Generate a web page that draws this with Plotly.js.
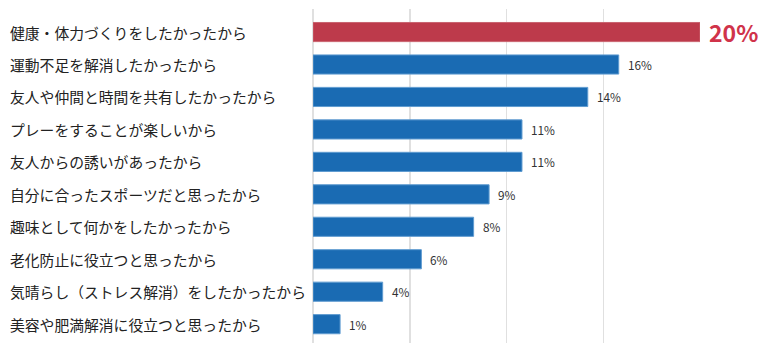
<!DOCTYPE html>
<html>
<head>
<meta charset="utf-8">
<script src="https://cdn.plot.ly/plotly-3.0.1.min.js"></script>
<style>html,body{margin:0;padding:0;background:#fff;}#chart{width:765px;height:352px;}</style>
</head>
<body>
<div id="chart"></div>
<script>
const categories = [
  "健康・体力づくりをしたかったから",
  "運動不足を解消したかったから",
  "友人や仲間と時間を共有したかったから",
  "プレーをすることが楽しいから",
  "友人からの誘いがあったから",
  "自分に合ったスポーツだと思ったから",
  "趣味として何かをしたかったから",
  "老化防止に役立つと思ったから",
  "気晴らし（ストレス解消）をしたかったから",
  "美容や肥満解消に役立つと思ったから"
];
const values = [20, 15.8, 14.2, 10.8, 10.8, 9.1, 8.3, 5.6, 3.6, 1.4];
const valueLabels = ["20%", "16%", "14%", "11%", "11%", "9%", "8%", "6%", "4%", "1%"];
const highlightIndex = 0;

const FONT = '"Noto Sans CJK JP", "Noto Sans", sans-serif';
const colors = values.map((v, i) => i === highlightIndex ? '#bd3a4b' : '#1a6bb3');
const lineColors = values.map((v, i) => i === highlightIndex ? '#c9636f' : '#5f9bd0');

const annotations = [];
categories.forEach((c, i) => {
  annotations.push({
    xref: 'paper', yref: 'y', x: -305/387, y: c, text: c,
    xanchor: 'left', yanchor: 'middle', showarrow: false,
    font: {family: FONT, size: 14.8, color: '#222'}
  });
  const hi = i === highlightIndex;
  annotations.push({
    xref: 'x', yref: 'y', x: values[i], y: c, text: valueLabels[i],
    xanchor: 'left', yanchor: 'middle', showarrow: false, xshift: 7, yshift: 0,
    font: {family: FONT, size: hi ? 23 : 11.8, color: hi ? '#d0334a' : '#333', weight: hi ? 700 : 400}
  });
});

const trace = {
  type: 'bar', orientation: 'h',
  x: values, y: categories,
  marker: {color: colors, line: {color: lineColors, width: 1}},
  hoverinfo: 'none'
};

const layout = {
  width: 765, height: 352,
  margin: {l: 313, r: 65, t: 9, b: 9},
  paper_bgcolor: '#fff', plot_bgcolor: '#fff',
  bargap: 0.41,
  showlegend: false,
  xaxis: {range: [0, 20], dtick: 5, showgrid: true, gridcolor: '#e0e0e0', gridwidth: 1.5,
          zeroline: true, zerolinecolor: '#e0e0e0', zerolinewidth: 1.5, showticklabels: false, ticks: '', fixedrange: true},
  yaxis: {type: 'category', autorange: false, range: [9.58, -0.71], showticklabels: false, showgrid: false,
          zeroline: false, ticks: '', fixedrange: true},
  annotations: annotations,
  font: {family: FONT}
};

Plotly.newPlot('chart', [trace], layout, {displayModeBar: false, staticPlot: true});
</script>
</body>
</html>
